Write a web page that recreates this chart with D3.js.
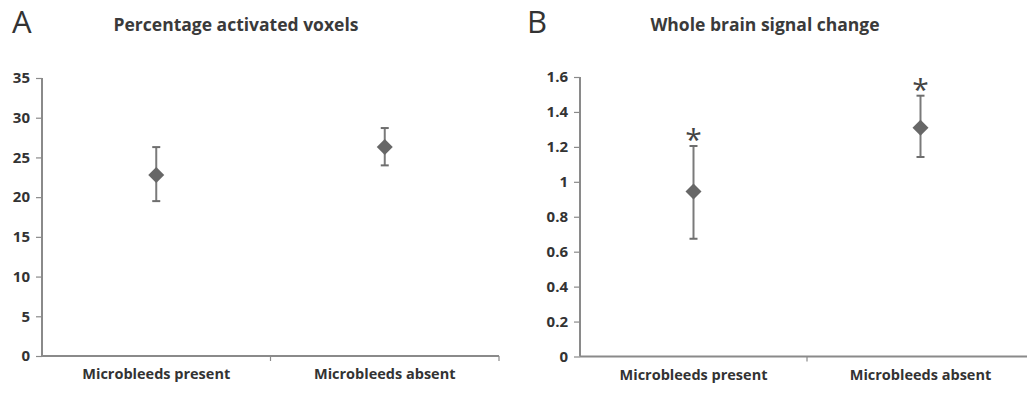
<!DOCTYPE html>
<html>
<head>
<meta charset="utf-8">
<script src="https://cdn.jsdelivr.net/npm/d3@7"></script>
<style>
  body { margin: 0; background: #fff; }
  svg text { font-family: "Open Sans", sans-serif; }
</style>
</head>
<body>
<div id="chart"></div>
<script>
// Panel data
const categories = ['Microbleeds present', 'Microbleeds absent'];

const voxelMean = [22.8, 26.3];
const voxelLow = [19.5, 24.0];
const voxelHigh = [26.3, 28.7];
const voxelTicks = [0, 5, 10, 15, 20, 25, 30, 35];

const signalMean = [0.945, 1.31];
const signalLow = [0.674, 1.142];
const signalHigh = [1.205, 1.493];
const signalTicks = [0, 0.2, 0.4, 0.6, 0.8, 1, 1.2, 1.4, 1.6];
const signalStars = [true, true];

const width = 1027, height = 393;
const svg = d3.select('#chart').append('svg')
    .attr('width', width)
    .attr('height', height);

function drawPanel(opts) {
    const g = svg.append('g');
    const x = d3.scaleBand().domain(categories).range([opts.x0, opts.x1]);
    const y = d3.scaleLinear().domain([0, opts.max]).range([opts.yBottom, opts.yTop]);

    // panel letter + title
    g.append('text')
        .attr('x', opts.letterX).attr('y', 33)
        .attr('font-size', 31).attr('font-weight', 400)
        .attr('fill', '#333')
        .text(opts.letter);
    g.append('text')
        .attr('x', opts.titleX).attr('y', 31)
        .attr('text-anchor', 'middle')
        .attr('font-size', 17.5).attr('font-weight', 700)
        .attr('fill', '#3a3a3a')
        .text(opts.title);

    // y axis
    const yAxis = g.append('g')
        .attr('transform', `translate(${opts.x0},0)`)
        .call(d3.axisLeft(y).tickValues(opts.ticks).tickSize(6).tickPadding(6)
            .tickFormat(d3.format('')));
    yAxis.select('.domain').attr('stroke', '#8a8a8a').attr('stroke-width', 2)
        .attr('d', `M-0,${opts.yTop}V${opts.yBottom}`);
    yAxis.selectAll('.tick line').attr('stroke', '#8a8a8a').attr('stroke-width', 1.2);
    yAxis.selectAll('.tick text')
        .attr('fill', '#333').attr('font-size', 15).attr('font-weight', 700);

    // x axis
    const xAxis = g.append('g')
        .attr('transform', `translate(0,${opts.yBottom})`)
        .call(d3.axisBottom(x).tickSize(0).tickPadding(13));
    xAxis.select('.domain').attr('stroke', '#8a8a8a').attr('stroke-width', 2)
        .attr('d', `M${opts.x0},0H${opts.x1}`);
    xAxis.selectAll('.tick text')
        .attr('fill', '#333').attr('font-size', 14.5).attr('font-weight', 700);
    // boundary ticks between categories
    const bounds = categories.map(c => x(c)).concat([opts.x1]).slice(1);
    xAxis.selectAll('.bound').data(bounds).enter().append('line')
        .attr('x1', d => d).attr('x2', d => d)
        .attr('y1', 0).attr('y2', 5)
        .attr('stroke', '#8a8a8a').attr('stroke-width', 1.2);

    const cx = c => x(c) + x.bandwidth() / 2;

    // error bars
    const bars = g.selectAll('.err').data(categories).enter().append('g');
    bars.append('line')
        .attr('x1', cx).attr('x2', cx)
        .attr('y1', (d, i) => y(opts.low[i]))
        .attr('y2', (d, i) => y(opts.high[i]))
        .attr('stroke', '#7a7a7a').attr('stroke-width', 2);
    ['low', 'high'].forEach(k => {
        bars.append('line')
            .attr('x1', d => cx(d) - 4).attr('x2', d => cx(d) + 4)
            .attr('y1', (d, i) => y(opts[k][i]))
            .attr('y2', (d, i) => y(opts[k][i]))
            .attr('stroke', '#6e6e6e').attr('stroke-width', 2);
    });

    // diamonds
    g.selectAll('.pt').data(categories).enter().append('path')
        .attr('d', 'M0,-8L8,0L0,8L-8,0Z')
        .attr('transform', (d, i) => `translate(${cx(d)},${y(opts.mean[i])})`)
        .attr('fill', '#676767');

    if (opts.stars) {
        g.selectAll('.star').data(categories).enter().append('text')
            .filter((d, i) => opts.stars[i])
            .attr('x', cx)
            .attr('y', (d, i) => y(opts.high[i]) + 4)
            .attr('text-anchor', 'middle')
            .attr('font-size', 30).attr('fill', '#444')
            .attr('font-family', 'DejaVu Sans')
            .text('*');
    }
}

drawPanel({
    letter: 'A', letterX: 12, title: 'Percentage activated voxels', titleX: 236,
    x0: 42, x1: 499, yTop: 78, yBottom: 356, max: 35,
    ticks: voxelTicks, mean: voxelMean, low: voxelLow, high: voxelHigh
});

drawPanel({
    letter: 'B', letterX: 527, title: 'Whole brain signal change', titleX: 765,
    x0: 580, x1: 1034, yTop: 77, yBottom: 356.5, max: 1.6,
    ticks: signalTicks, mean: signalMean, low: signalLow, high: signalHigh,
    stars: signalStars
});
</script>
</body>
</html>
